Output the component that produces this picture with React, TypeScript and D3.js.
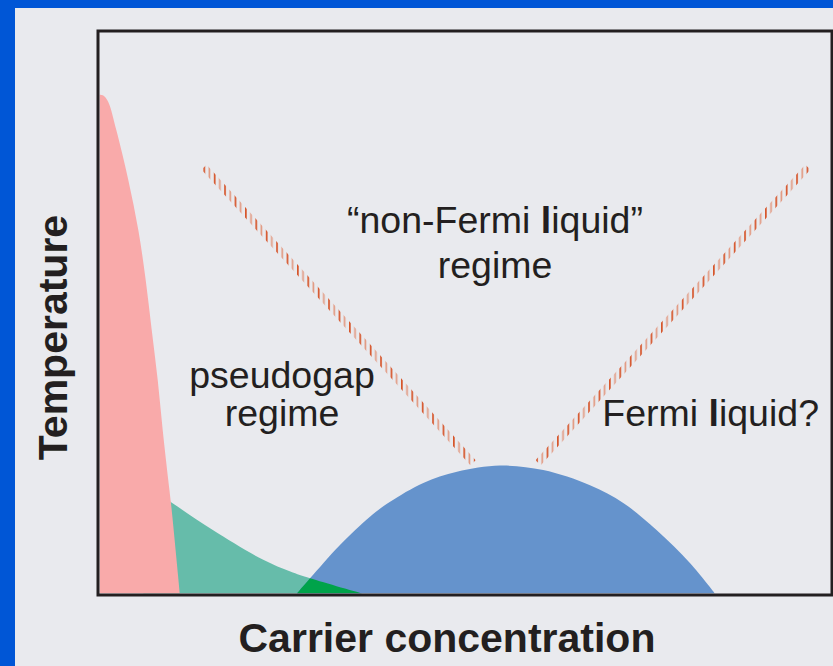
import React, { useEffect, useRef } from "react";
import * as d3 from "d3";

// phase diagram values (carrier concentration / temperature, 0-100)
const pinkTemp = [0, 16.1, 20.2, 29.1, 38.1, 47.0, 55.9, 64.8, 73.7, 82.6, 87.6, 88.7, 88.9];
const pinkConc = [11.0, 9.78, 9.41, 8.65, 7.96, 7.14, 6.32, 5.31, 3.94, 2.3, 1.2, 0.6, 0];

const pseudoConc = [6.0, 10.0, 15.5, 22.4, 26.1, 28.8, 35.9];
const pseudoTemp = [19.7, 16.1, 11.3, 6.0, 3.9, 2.7, 0];

const domeConc = [27.0, 28.8, 32.9, 37.0, 39.7, 44.3, 48.9, 54.8, 60.7, 67.1, 71.7, 76.2, 80.8, 84.2];
const domeTemp = [0, 2.7, 8.65, 13.7, 16.3, 19.7, 21.7, 22.8, 22.0, 19.3, 16.1, 11.3, 5.4, 0];

const crossLeftConc = [14.3, 51.1];
const crossLeftTemp = [76.0, 23.3];
const crossRightConc = [60.0, 96.9];
const crossRightTemp = [23.3, 76.0];

const W = 833;
const H = 666;
const font = "'Liberation Sans', Arial, Helvetica, sans-serif";

const drawChart = (svgEl: SVGSVGElement) => {
  const svg = d3.select(svgEl);
  svg.selectAll("*").remove();

  const left = 99.5;
  const right = 830.5;
  const top = 32.5;
  const bottom = 593.5;

  const x = d3.scaleLinear().domain([0, 100]).range([left, right]);
  const y = d3.scaleLinear().domain([0, 100]).range([bottom, top]);

  // frame
  svg.append("rect").attr("width", W).attr("height", H).attr("fill", "#0056d6");
  svg
    .append("rect")
    .attr("x", 15)
    .attr("y", 8)
    .attr("width", W - 15)
    .attr("height", H - 8)
    .attr("fill", "#e9eaee");

  const defs = svg.append("defs");
  defs
    .append("clipPath")
    .attr("id", "plot-clip")
    .append("rect")
    .attr("x", left)
    .attr("y", top)
    .attr("width", right - left)
    .attr("height", bottom - top);

  const pink = pinkTemp.map((t, i) => ({ c: pinkConc[i], t }));
  const pseudo = pseudoConc.map((c, i) => ({ c, t: pseudoTemp[i] }));
  const dome = domeConc.map((c, i) => ({ c, t: domeTemp[i] }));

  const areaX = d3
    .area<{ c: number; t: number }>()
    .x((d) => x(d.c))
    .y0(y(0))
    .y1((d) => y(d.t))
    .curve(d3.curveCatmullRom.alpha(0.5));

  const pinkArea = d3
    .area<{ c: number; t: number }>()
    .y((d) => y(d.t))
    .x0(x(0))
    .x1((d) => x(d.c))
    .curve(d3.curveCatmullRom.alpha(0.5));

  defs.append("clipPath").attr("id", "dome-clip").append("path").attr("d", areaX(dome));

  // hatch pattern for the crossover lines
  const pat = defs
    .append("pattern")
    .attr("id", "hatch")
    .attr("patternUnits", "userSpaceOnUse")
    .attr("x", 203.4)
    .attr("y", 0)
    .attr("width", 10.4)
    .attr("height", 20);
  pat.append("rect").attr("x", 0).attr("width", 1.7).attr("height", 20).attr("fill", "#d6552a");
  pat.append("rect").attr("x", 5.2).attr("width", 1.7).attr("height", 20).attr("fill", "#e29a82");

  const g = svg.append("g").attr("clip-path", "url(#plot-clip)");

  g.append("path").attr("d", areaX(pseudo)).attr("fill", "#66bcaa");
  g.append("path").attr("d", areaX(dome)).attr("fill", "#6593cc");
  g.append("path")
    .attr("d", areaX(pseudo))
    .attr("fill", "#00a34a")
    .attr("clip-path", "url(#dome-clip)");
  g.append("path").attr("d", pinkArea(pink)).attr("fill", "#f9aaaa");

  const crossovers = [
    [crossLeftConc, crossLeftTemp],
    [crossRightConc, crossRightTemp],
  ];
  crossovers.forEach(([cs, ts]) => {
    const pts: [number, number][] = cs.map((c, i) => [x(c), y(ts[i])]);
    g.append("path")
      .attr("d", d3.line()(pts))
      .attr("fill", "none")
      .attr("stroke", "url(#hatch)")
      .attr("stroke-width", 7.2);
  });

  // box
  svg
    .append("rect")
    .attr("x", 98)
    .attr("y", 31)
    .attr("width", 734)
    .attr("height", 564)
    .attr("fill", "none")
    .attr("stroke", "#231f20")
    .attr("stroke-width", 3);

  // region labels
  const label = (tx: number, ty: number, anchor: string) =>
    svg
      .append("text")
      .attr("x", tx)
      .attr("y", ty)
      .attr("text-anchor", anchor)
      .attr("font-family", font)
      .attr("font-size", 37.5)
      .attr("fill", "#231f20");

  const nfl = label(495, 233, "middle");
  nfl.append("tspan").text("\u201cnon-Fermi ");
  nfl.append("tspan").attr("font-weight", "bold").text("l");
  nfl.append("tspan").text("iquid\u201d");
  label(495, 278, "middle").text("regime");

  label(282, 388, "middle").text("pseudogap");
  label(282, 426, "middle").text("regime");

  const fl = label(819, 426, "end");
  fl.append("tspan").text("Fermi ");
  fl.append("tspan").attr("font-weight", "bold").text("l");
  fl.append("tspan").text("iquid?");

  // axis titles
  svg
    .append("text")
    .attr("x", 447)
    .attr("y", 652)
    .attr("text-anchor", "middle")
    .attr("font-family", font)
    .attr("font-weight", "bold")
    .attr("font-size", 41)
    .attr("fill", "#231f20")
    .text("Carrier concentration");

  svg
    .append("text")
    .attr("transform", "translate(66.5,337.5) rotate(-90)")
    .attr("text-anchor", "middle")
    .attr("font-family", font)
    .attr("font-weight", "bold")
    .attr("font-size", 41)
    .attr("fill", "#231f20")
    .text("Temperature");
};

export default function App() {
  const ref = useRef<SVGSVGElement>(null);

  useEffect(() => {
    if (ref.current) drawChart(ref.current);
  }, []);

  return (
    <div style={{ position: "absolute", left: 0, top: 0 }}>
      <svg ref={ref} width={W} height={H} style={{ display: "block" }} />
    </div>
  );
}
